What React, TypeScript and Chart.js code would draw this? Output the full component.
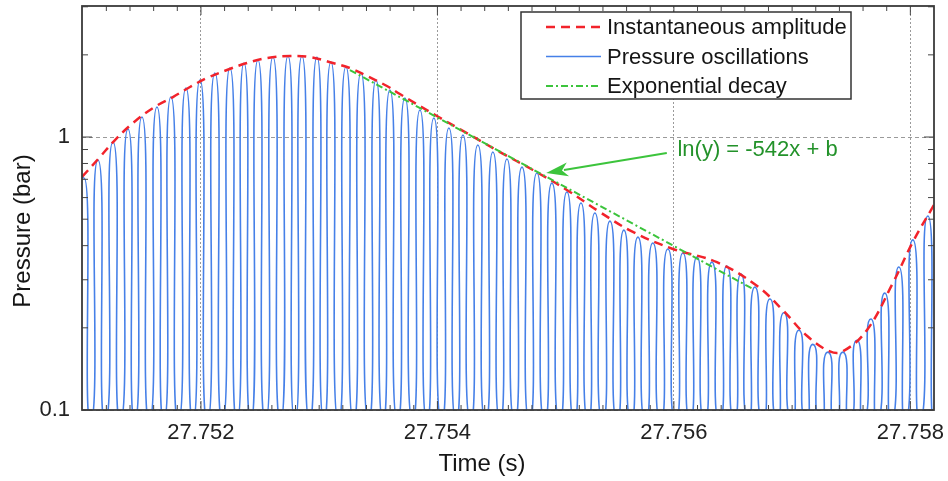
import { useEffect, useRef } from "react";
import { Chart, registerables } from "chart.js";

Chart.register(...registerables);

// ---------- data ----------
// Pressure oscillations: lobe peaks (time, bar) and troughs between them
const peakTimes = [
  27.751011, 27.751129, 27.751256, 27.751383, 27.751501, 27.751628, 27.751746, 27.751873, 27.751992, 27.752118,
  27.752245, 27.752364, 27.752482, 27.752609, 27.752736, 27.752854, 27.752981, 27.753099, 27.753226, 27.753353,
  27.75348, 27.753598, 27.753725, 27.753852, 27.75397, 27.754097, 27.754216, 27.754342, 27.754469, 27.754588,
  27.754715, 27.754841, 27.754968, 27.755095, 27.755214, 27.755332, 27.755459, 27.755577, 27.755696, 27.755822,
  27.755949, 27.756076, 27.756195, 27.756321, 27.756448, 27.756567, 27.756685, 27.756812, 27.75693, 27.757057,
  27.757175, 27.757302, 27.757429, 27.757548, 27.757666, 27.757784, 27.757903, 27.758021, 27.758148, 27.758266,
];
const peakValues = [
  0.708, 0.824, 0.959, 1.07, 1.184, 1.288, 1.401, 1.512, 1.618, 1.716,
  1.789, 1.867, 1.915, 1.963, 1.98, 1.98, 1.963, 1.883, 1.805, 1.716,
  1.618, 1.486, 1.39, 1.256, 1.174, 1.079, 1.017, 0.935, 0.881, 0.831,
  0.776, 0.738, 0.678, 0.629, 0.573, 0.527, 0.492, 0.456, 0.43, 0.409,
  0.389, 0.376, 0.363, 0.348, 0.337, 0.315, 0.282, 0.255, 0.227, 0.196,
  0.174, 0.163, 0.163, 0.18, 0.2155, 0.268, 0.334, 0.42, 0.514, 0.629,
];
const troughTimes = [
  27.750952, 27.75107, 27.751193, 27.75132, 27.751442, 27.751565, 27.751687, 27.75181, 27.751933, 27.752055,
  27.752182, 27.752305, 27.752423, 27.752546, 27.752673, 27.752795, 27.752918, 27.75304, 27.753163, 27.75329,
  27.753417, 27.753539, 27.753662, 27.753789, 27.753911, 27.754034, 27.754157, 27.754279, 27.754406, 27.754529,
  27.754652, 27.754778, 27.754905, 27.755032, 27.755155, 27.755273, 27.755396, 27.755518, 27.755637, 27.755759,
  27.755886, 27.756013, 27.756136, 27.756258, 27.756385, 27.756508, 27.756626, 27.756749, 27.756871, 27.756994,
  27.757116, 27.757239, 27.757366, 27.757489, 27.757607, 27.757725, 27.757844, 27.757962, 27.758085, 27.758207,
  27.758325,
];
const TROUGH_LEVEL = 0.09;

// Instantaneous amplitude (envelope)
const envTimes = [
  27.750994, 27.751146, 27.751273, 27.751425, 27.751594, 27.751763, 27.751907, 27.752051, 27.75222, 27.752389,
  27.752558, 27.752753, 27.752922, 27.753116, 27.75326, 27.753404, 27.753573, 27.753683, 27.753996, 27.754249,
  27.754529, 27.754808, 27.755095, 27.755374, 27.755653, 27.755992, 27.756364, 27.756702, 27.756922, 27.757125,
  27.757319, 27.757429, 27.757632, 27.757852, 27.758021, 27.758199,
];
const envValues = [
  0.714, 0.845, 0.975, 1.125, 1.277, 1.401, 1.525, 1.645, 1.76, 1.867,
  1.947, 1.98, 1.963, 1.867, 1.789, 1.673, 1.538, 1.437, 1.194, 1.034,
  0.881, 0.757, 0.64, 0.531, 0.449, 0.389, 0.348, 0.285, 0.232, 0.187,
  0.164, 0.164, 0.196, 0.292, 0.4125, 0.5635,
];

// Exponential decay fit  ln(y) = -542x + b
const decayTimes = [27.75326, 27.75667];
const decayValues = [1.76, 0.2774];

// Axes
const X_MIN = 27.750994;
const X_MAX = 27.7582;
const Y_MIN = 0.1;
const Y_MAX = 3.02;
const xTickValues = [27.752, 27.754, 27.756, 27.758];
const yTickValues = [0.1, 1];
const yMinorValues = [0.2, 0.3, 0.4, 0.5, 0.6, 0.7, 0.8, 0.9, 2, 3];
const xMinorValues = [
  27.7512, 27.7514, 27.7516, 27.7518, 27.7522, 27.7524, 27.7526, 27.7528, 27.753, 27.7532, 27.7534, 27.7536,
  27.7538, 27.7542, 27.7544, 27.7546, 27.7548, 27.755, 27.7552, 27.7554, 27.7556, 27.7558, 27.7562, 27.7564,
  27.7566, 27.7568, 27.757, 27.7572, 27.7574, 27.7576, 27.7578,
];

const legendLabels = ["Instantaneous amplitude", "Pressure oscillations", "Exponential decay"];
const annotationText = "ln(y) = -542x + b";
const annotationArrowTip = { x: 27.75492, y: 0.738 };
const annotationArrowTail = { x: 27.75594, y: 0.874 };
const annotationTextAt = { x: 27.75603, y: 0.896 };
const xTitle = "Time (s)";
const yTitle = "Pressure (bar)";

// ---------- styles ----------
const FONT = '"Liberation Sans", Arial, Helvetica, sans-serif';
const RED = "#f2232b";
const BLUE = "#4680e8";
const GREEN = "#3cc43c";
const TEXT_GREEN = "#23922a";
const RED_DASH = [9, 6];
const GREEN_DASH = [7, 3, 2, 3];

export default function App() {
  const ref = useRef<HTMLCanvasElement>(null);

  useEffect(() => {
    const canvas = ref.current;
    if (!canvas) return;

    const oscData: { x: number; y: number }[] = [];
    for (let i = 0; i < peakTimes.length; i++) {
      oscData.push({ x: troughTimes[i], y: TROUGH_LEVEL });
      oscData.push({ x: peakTimes[i], y: peakValues[i] });
    }
    oscData.push({ x: troughTimes[troughTimes.length - 1], y: TROUGH_LEVEL });

    const envData = envTimes.map((t, i) => ({ x: t, y: envValues[i] }));
    const decayData = decayTimes.map((t, i) => ({ x: t, y: decayValues[i] }));

    const overlay = {
      id: "overlay",
      afterDatasetsDraw(chart: any) {
        const { ctx, chartArea: a, scales } = chart;
        const xs = scales.x;
        const ys = scales.y;
        ctx.save();

        const seg = (x1: number, y1: number, x2: number, y2: number) => {
          ctx.beginPath();
          ctx.moveTo(x1, y1);
          ctx.lineTo(x2, y2);
          ctx.stroke();
        };

        // minor & major tick marks (inward)
        ctx.strokeStyle = "#444";
        ctx.lineWidth = 1;
        ctx.setLineDash([]);
        for (const v of yMinorValues) {
          const py = ys.getPixelForValue(v);
          seg(a.left, py, a.left + 6, py);
          seg(a.right - 6, py, a.right, py);
        }
        for (const v of yTickValues) {
          const py = ys.getPixelForValue(v);
          seg(a.left, py, a.left + 10, py);
          seg(a.right - 10, py, a.right, py);
        }
        for (const v of xMinorValues) {
          const px = xs.getPixelForValue(v);
          seg(px, a.bottom, px, a.bottom - 5);
          seg(px, a.top, px, a.top + 5);
        }
        for (const v of xTickValues) {
          const px = xs.getPixelForValue(v);
          seg(px, a.bottom, px, a.bottom - 9);
          seg(px, a.top, px, a.top + 9);
        }

        // frame
        ctx.strokeStyle = "#3a3a3a";
        ctx.lineWidth = 1.8;
        ctx.strokeRect(a.left, a.top, a.right - a.left, a.bottom - a.top);

        // legend
        const bw = 330;
        const bh = 87;
        const bx = a.right - 83 - bw;
        const by = a.top + 6;
        ctx.fillStyle = "#ffffff";
        ctx.fillRect(bx, by, bw, bh);
        ctx.strokeStyle = "#333";
        ctx.lineWidth = 1.5;
        ctx.strokeRect(bx, by, bw, bh);
        const rows = [15, 44.5, 74];
        const styles = [
          { color: RED, dash: RED_DASH, width: 2.5 },
          { color: BLUE, dash: [] as number[], width: 1.5 },
          { color: GREEN, dash: GREEN_DASH, width: 2 },
        ];
        ctx.font = `22px ${FONT}`;
        ctx.textAlign = "left";
        ctx.textBaseline = "middle";
        legendLabels.forEach((label, i) => {
          const ry = by + rows[i];
          ctx.strokeStyle = styles[i].color;
          ctx.lineWidth = styles[i].width;
          ctx.setLineDash(styles[i].dash);
          seg(bx + 25, ry, bx + 80, ry);
          ctx.setLineDash([]);
          ctx.fillStyle = "#151515";
          ctx.fillText(label, bx + 86, ry + 1);
        });

        // annotation arrow
        const tipX = xs.getPixelForValue(annotationArrowTip.x);
        const tipY = ys.getPixelForValue(annotationArrowTip.y);
        const tailX = xs.getPixelForValue(annotationArrowTail.x);
        const tailY = ys.getPixelForValue(annotationArrowTail.y);
        const ang = Math.atan2(tipY - tailY, tipX - tailX);
        const headLen = 22;
        const headHalf = 7;
        const baseX = tipX - headLen * Math.cos(ang);
        const baseY = tipY - headLen * Math.sin(ang);
        ctx.strokeStyle = GREEN;
        ctx.lineWidth = 2;
        seg(tailX, tailY, baseX + 4 * Math.cos(ang), baseY + 4 * Math.sin(ang));
        ctx.fillStyle = GREEN;
        ctx.beginPath();
        ctx.moveTo(tipX, tipY);
        ctx.lineTo(baseX - headHalf * Math.sin(ang), baseY + headHalf * Math.cos(ang));
        ctx.lineTo(baseX + 6 * Math.cos(ang), baseY + 6 * Math.sin(ang));
        ctx.lineTo(baseX + headHalf * Math.sin(ang), baseY - headHalf * Math.cos(ang));
        ctx.closePath();
        ctx.fill();

        // annotation text
        ctx.fillStyle = TEXT_GREEN;
        ctx.font = `22px ${FONT}`;
        ctx.textAlign = "left";
        ctx.textBaseline = "middle";
        ctx.fillText(
          annotationText,
          xs.getPixelForValue(annotationTextAt.x),
          ys.getPixelForValue(annotationTextAt.y)
        );

        // axis titles
        ctx.fillStyle = "#151515";
        ctx.font = `24px ${FONT}`;
        ctx.textAlign = "center";
        ctx.textBaseline = "middle";
        ctx.fillText(xTitle, (a.left + a.right) / 2 - 26, a.bottom + 54);
        ctx.translate(a.left - 59, (a.top + a.bottom) / 2 + 23);
        ctx.rotate(-Math.PI / 2);
        ctx.fillText(yTitle, 0, 0);

        ctx.restore();
      },
    };

    const chart = new Chart(canvas, {
      type: "line",
      data: {
        datasets: [
          {
            label: legendLabels[0],
            data: envData,
            borderColor: RED,
            borderWidth: 2.5,
            borderDash: RED_DASH,
            tension: 0.4,
            pointRadius: 0,
            fill: false,
            order: 1,
          },
          {
            label: legendLabels[1],
            data: oscData,
            borderColor: BLUE,
            borderWidth: 1.6,
            tension: 1.35,
            pointRadius: 0,
            fill: false,
            order: 2,
          },
          {
            label: legendLabels[2],
            data: decayData,
            borderColor: GREEN,
            borderWidth: 2,
            borderDash: GREEN_DASH,
            tension: 0,
            pointRadius: 0,
            fill: false,
            order: 0,
          },
        ],
      },
      options: {
        animation: false,
        responsive: false,
        devicePixelRatio: 1,
        parsing: false,
        normalized: true,
        layout: { padding: { left: 0, right: 14, top: 6, bottom: 0 } },
        plugins: { legend: { display: false }, tooltip: { enabled: false } },
        scales: {
          x: {
            type: "linear",
            min: X_MIN,
            max: X_MAX,
            afterBuildTicks: (s: any) => {
              s.ticks = xTickValues.map((v) => ({ value: v }));
            },
            afterFit: (s: any) => {
              s.height = 71;
              s.paddingLeft = 0;
              s.paddingRight = 0;
            },
            ticks: {
              autoSkip: false,
              maxRotation: 0,
              padding: 10,
              color: "#222",
              font: { family: FONT, size: 22 },
              callback: (v: any) => Number(v).toFixed(3),
            },
            grid: { color: "#9a9a9a", lineWidth: 1, drawTicks: false },
            border: { display: false, dash: [2, 2] },
          },
          y: {
            type: "logarithmic",
            min: Y_MIN,
            max: Y_MAX,
            afterBuildTicks: (s: any) => {
              s.ticks = yTickValues.map((v) => ({ value: v }));
            },
            afterFit: (s: any) => {
              s.width = 82;
              s.paddingTop = 0;
              s.paddingBottom = 0;
            },
            ticks: {
              autoSkip: false,
              padding: 12,
              color: "#222",
              font: { family: FONT, size: 22 },
              callback: (v: any) => (Math.abs(Number(v) - 1) < 1e-9 ? "1" : "0.1"),
            },
            grid: { color: "#9a9a9a", lineWidth: 1, drawTicks: false },
            border: { display: false, dash: [4, 3] },
          },
        },
      },
      plugins: [overlay],
    } as any);

    return () => chart.destroy();
  }, []);

  return (
    <div style={{ position: "fixed", left: 0, top: 0, width: 948, height: 481, background: "#fff" }}>
      <canvas ref={ref} width={948} height={481} style={{ display: "block", width: 948, height: 481 }} />
    </div>
  );
}
